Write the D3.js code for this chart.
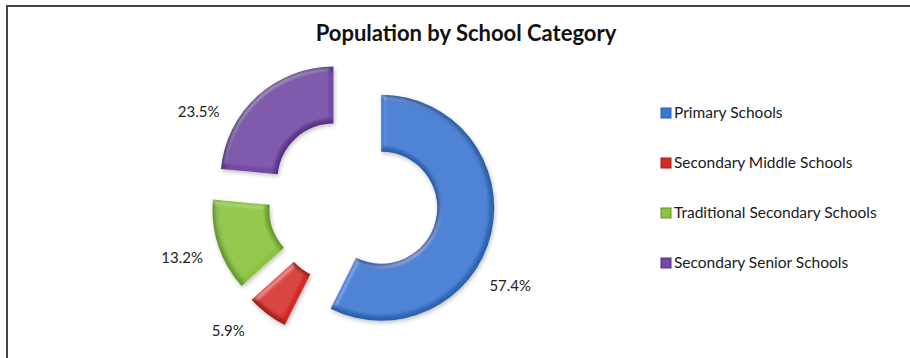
<!DOCTYPE html>
<html>
<head>
<meta charset="utf-8">
<script src="https://cdn.jsdelivr.net/npm/d3@7"></script>
<style>
  html, body { margin: 0; padding: 0; background: #fff; }
  svg { display: block; font-family: Lato, "Open Sans", sans-serif; }
</style>
</head>
<body>
<div id="chart"></div>
<script>
'use strict';

// data
const categories = [
  "Primary Schools",
  "Secondary Middle Schools",
  "Traditional Secondary Schools",
  "Secondary Senior Schools"
];
const shares = [57.4, 5.9, 13.2, 23.5];
const shareLabels = ["57.4%", "5.9%", "13.2%", "23.5%"];

// look
const colours = ["#3a79d0", "#d42b26", "#8cc33a", "#7648a6"];
const darkColours = ["#2a5ca4", "#9e1d1a", "#62922a", "#52307c"];
const labelShift = [18, 8, 0, -21]; // degrees, nudges like excel's placement

const width = 910;
const height = 358;
const cx = 353;
const cy = 201;
const outerR = 113;
const innerR = 56;
const explode = 29;
const labelR = 151;

const svg = d3.select('#chart')
  .append('svg')
  .attr('width', width)
  .attr('height', height);

const defs = svg.append('defs');

// soft bevel + shadow like office 2007 charts
const f = defs.append('filter')
  .attr('id', 'bevel')
  .attr('x', '-20%').attr('y', '-20%')
  .attr('width', '140%').attr('height', '140%');
f.append('feGaussianBlur').attr('in', 'SourceAlpha').attr('stdDeviation', 2.5).attr('result', 'blur');
f.append('feSpecularLighting')
  .attr('in', 'blur').attr('surfaceScale', 2.5).attr('specularConstant', 0.3)
  .attr('specularExponent', 22).attr('lighting-color', '#ffffff').attr('result', 'spec')
  .append('feDistantLight').attr('azimuth', 235).attr('elevation', 45);
f.append('feComposite').attr('in', 'spec').attr('in2', 'SourceAlpha').attr('operator', 'in').attr('result', 'specIn');
f.append('feComposite').attr('in', 'SourceGraphic').attr('in2', 'specIn')
  .attr('operator', 'arithmetic').attr('k1', 0).attr('k2', 1).attr('k3', 0.7).attr('k4', 0).attr('result', 'lit');
f.append('feGaussianBlur').attr('in', 'SourceAlpha').attr('stdDeviation', 2).attr('result', 'sblur');
f.append('feOffset').attr('in', 'sblur').attr('dx', 1).attr('dy', 2).attr('result', 'soff');
f.append('feFlood').attr('flood-color', '#000').attr('flood-opacity', 0.25).attr('result', 'sflood');
f.append('feComposite').attr('in', 'sflood').attr('in2', 'soff').attr('operator', 'in').attr('result', 'shadow');
const merge = f.append('feMerge');
merge.append('feMergeNode').attr('in', 'shadow');
merge.append('feMergeNode').attr('in', 'lit');

// radial gradient per slice: darker rims of the ring
colours.forEach(function(c, i) {
  const g = defs.append('radialGradient')
    .attr('id', 'grad' + i)
    .attr('gradientUnits', 'userSpaceOnUse')
    .attr('cx', 0).attr('cy', 0).attr('r', outerR);
  g.append('stop').attr('offset', innerR / outerR).attr('stop-color', darkColours[i]);
  g.append('stop').attr('offset', (innerR + 7) / outerR).attr('stop-color', c);
  g.append('stop').attr('offset', 0.93).attr('stop-color', c);
  g.append('stop').attr('offset', 1).attr('stop-color', darkColours[i]);
});

// frame (only top and left edges show)
svg.append('path')
  .attr('d', 'M7,' + height + 'V6H' + width)
  .attr('fill', 'none')
  .attr('stroke', '#444')
  .attr('stroke-width', 2);

svg.append('text')
  .attr('x', 466)
  .attr('y', 41)
  .attr('text-anchor', 'middle')
  .style('font-size', '22px')
  .style('font-weight', 'bold')
  .style('fill', '#111')
  .text('Population by School Category');

const pie = d3.pie().value(function(d) { return d; }).sort(null);
const arc = d3.arc().innerRadius(innerR).outerRadius(outerR);
const slices = pie(shares);

function midAngle(d) { return (d.startAngle + d.endAngle) / 2; }

const chart = svg.append('g')
  .attr('transform', 'translate(' + cx + ',' + cy + ')');

const slice = chart.selectAll('.slice')
  .data(slices)
  .enter()
  .append('g')
  .attr('class', 'slice')
  .attr('transform', function(d) {
    const a = midAngle(d);
    return 'translate(' + (explode * Math.sin(a)) + ',' + (-explode * Math.cos(a)) + ')';
  });

slice.append('path')
  .attr('d', arc)
  .attr('fill', function(d, i) { return 'url(#grad' + i + ')'; })
  .attr('filter', 'url(#bevel)');

slice.append('text')
  .attr('transform', function(d, i) {
    const a = midAngle(d) + labelShift[i] * Math.PI / 180;
    return 'translate(' + (labelR * Math.sin(a)) + ',' + (-labelR * Math.cos(a)) + ')';
  })
  .attr('text-anchor', 'middle')
  .attr('dy', '0.35em')
  .style('font-size', '15px')
  .style('fill', '#222')
  .text(function(d, i) { return shareLabels[i]; });

// legend
const legendY = d3.scalePoint()
  .domain(categories)
  .range([113, 263]);

const legend = svg.append('g')
  .selectAll('.legend')
  .data(categories)
  .enter()
  .append('g')
  .attr('class', 'legend')
  .attr('transform', function(d) { return 'translate(661,' + legendY(d) + ')'; });

legend.append('rect')
  .attr('x', 0).attr('y', -5)
  .attr('width', 10).attr('height', 10)
  .attr('fill', function(d, i) { return colours[i]; })
  .attr('stroke', function(d, i) { return darkColours[i]; })
  .attr('stroke-width', 1);

legend.append('text')
  .attr('x', 13)
  .attr('dy', '0.35em')
  .style('font-size', '15.5px')
  .style('fill', '#1a1a1a')
  .text(function(d) { return d; });
</script>
</body>
</html>
